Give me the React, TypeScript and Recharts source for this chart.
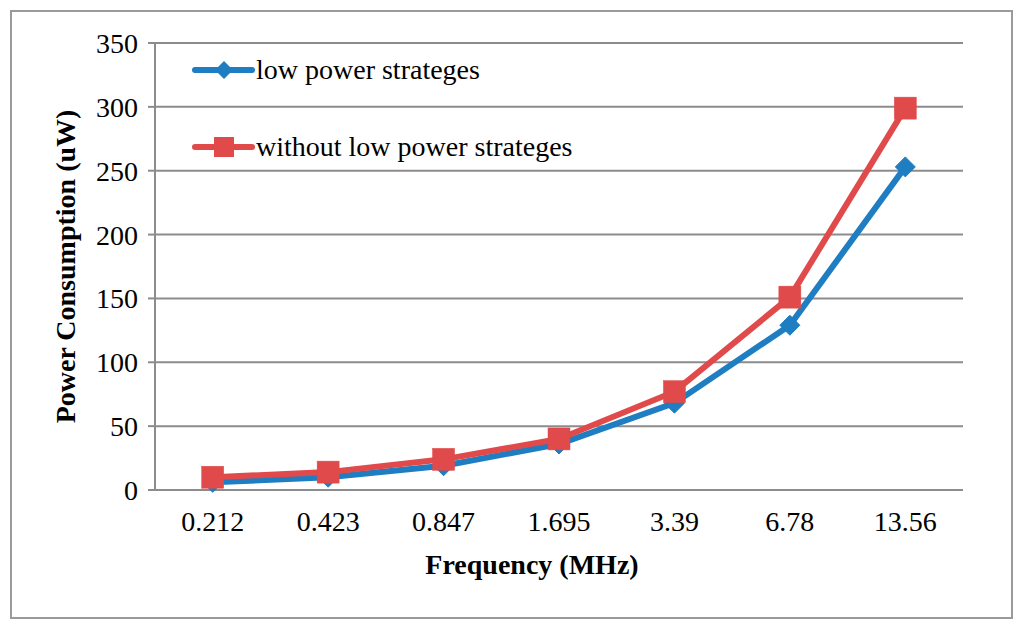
import React from 'react';
import { LineChart, Line, XAxis, YAxis, CartesianGrid } from 'recharts';

const categories = ['0.212', '0.423', '0.847', '1.695', '3.39', '6.78', '13.56'];
const lowPower = [6, 10, 19, 36, 68, 129, 253];
const withoutLowPower = [10, 14, 24, 40, 77, 151, 299];
const yTicks = [0, 50, 100, 150, 200, 250, 300, 350];

const seriesNames = ['low power strateges', 'without low power strateges'];
const BLUE = '#1f7dc2';
const RED = '#e04a4b';
const FONT = '"Liberation Serif", "Times New Roman", serif';

const data = categories.map((c, i) => ({ cat: c, low: lowPower[i], without: withoutLowPower[i] }));

const Diamond = (props: any) => {
  const { cx, cy } = props;
  if (cx == null || cy == null) return null;
  const r = 10;
  return <path d={`M${cx},${cy - r}L${cx + r},${cy}L${cx},${cy + r}L${cx - r},${cy}Z`} fill={BLUE} stroke={BLUE} strokeWidth={1} />;
};

const Square = (props: any) => {
  const { cx, cy } = props;
  if (cx == null || cy == null) return null;
  const s = 11;
  return <rect x={cx - s} y={cy - s} width={2 * s} height={2 * s} fill={RED} stroke={RED} strokeWidth={0.5} />;
};

const LegendBox = () => (
  <div style={{ position: 'absolute', left: 192, top: 52, fontFamily: FONT, fontSize: 28, color: '#000', lineHeight: '36px' }}>
    <div style={{ display: 'flex', alignItems: 'center', height: 36 }}>
      <svg width={64} height={24} style={{ flex: 'none' }}>
        <line x1={3} y1={12} x2={60} y2={12} stroke={BLUE} strokeWidth={6} strokeLinecap="round" />
        <path d="M32,3L41,12L32,21L23,12Z" fill={BLUE} />
      </svg>
      <span style={{ whiteSpace: 'nowrap', fontFamily: FONT }}>{seriesNames[0]}</span>
    </div>
    <div style={{ display: 'flex', alignItems: 'center', height: 36, marginTop: 41 }}>
      <svg width={64} height={24} style={{ flex: 'none' }}>
        <line x1={3} y1={12} x2={60} y2={12} stroke={RED} strokeWidth={6} strokeLinecap="round" />
        <rect x={22} y={2} width={20} height={20} fill={RED} />
      </svg>
      <span style={{ whiteSpace: 'nowrap', fontFamily: FONT }}>{seriesNames[1]}</span>
    </div>
  </div>
);

export default function App() {
  return (
    <div style={{ position: 'absolute', left: 0, top: 0, width: 1024, height: 630, background: '#fff', fontFamily: FONT }}>
      <div style={{ position: 'absolute', left: 10, top: 10, width: 999, height: 605, border: '2px solid #9a9a9a' }} />
      <div style={{ position: 'absolute', left: 0, top: 0 }}>
        <LineChart width={1024} height={630} data={data} margin={{ top: 43, right: 61, bottom: 45, left: 95 }}>
          <CartesianGrid vertical={false} stroke="#8c8c8c" strokeWidth={2} />
          <XAxis
            dataKey="cat"
            padding={{ left: 57.7, right: 57.7 }}
            axisLine={{ stroke: '#8c8c8c', strokeWidth: 2 }}
            tickLine={false}
            tick={{ fontFamily: FONT, fontSize: 28, fill: '#000' }}
            dy={13}
            height={95}
            label={{ value: 'Frequency (MHz)', position: 'insideBottom', offset: 11, dx: -27, style: { fontFamily: FONT, fontSize: 28, fontWeight: 'bold', fill: '#000' } }}
          />
          <YAxis
            domain={[0, 350]}
            ticks={yTicks}
            width={60}
            interval={0}
            axisLine={{ stroke: '#8c8c8c', strokeWidth: 2 }}
            tickLine={{ stroke: '#8c8c8c', strokeWidth: 2 }}
            tickSize={7}
            dx={-8}
            tick={{ fontFamily: FONT, fontSize: 28, fill: '#000' }}
            label={{ value: 'Power Consumption (uW)', angle: -90, position: 'insideLeft', offset: 0, dx: -30, style: { fontFamily: FONT, fontSize: 28, fontWeight: 'bold', fill: '#000', textAnchor: 'middle' } }}
          />
          <Line dataKey="low" name={seriesNames[0]} stroke={BLUE} strokeWidth={6} dot={<Diamond />} activeDot={false} isAnimationActive={false} />
          <Line dataKey="without" name={seriesNames[1]} stroke={RED} strokeWidth={6} dot={<Square />} activeDot={false} isAnimationActive={false} />
        </LineChart>
      </div>
      <LegendBox />
    </div>
  );
}
